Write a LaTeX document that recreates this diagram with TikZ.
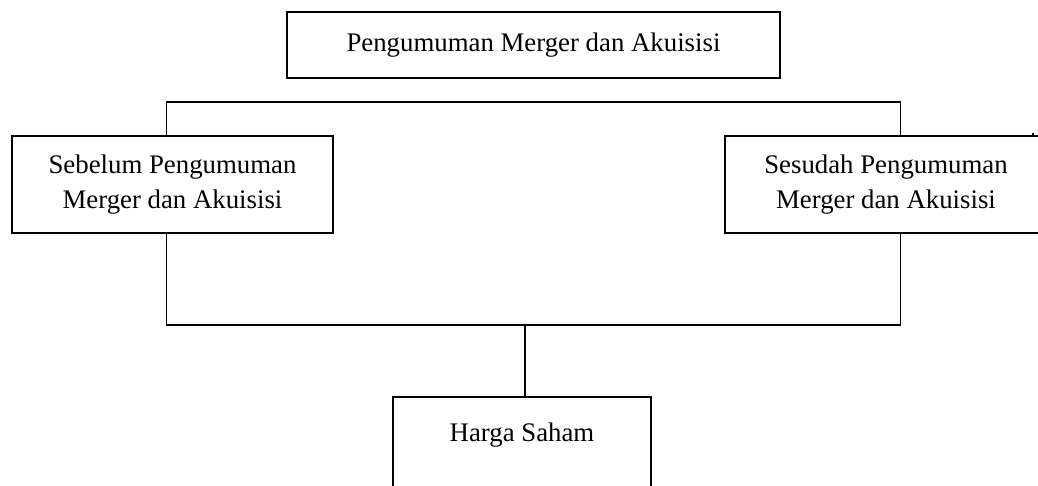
\documentclass[tikz,border=0pt]{standalone}
\usepackage{fontspec}
\setmainfont{Liberation Serif}
\begin{document}
\begin{tikzpicture}[x=1pt,y=-1pt,
  box/.style={draw=black, line width=2pt, rectangle, align=center, inner sep=0pt,
    font=\fontsize{26.8}{35}\selectfont},
  conn/.style={draw=black, line width=1.8pt}]
\useasboundingbox (0,0) rectangle (1038,486);
\clip (0,0) rectangle (1038,486);
\fill[white] (0,0) rectangle (1038,486);
% nodes
\node[box, minimum width=493, minimum height=66] (top) at (533.5,45) {Pengumuman Merger dan Akuisisi};
\node[box, minimum width=321, minimum height=97] (lb) at (172.5,185) {Sebelum Pengumuman\\Merger dan Akuisisi};
\node[box, minimum width=322, minimum height=97] (rb) at (886,185) {Sesudah Pengumuman\\Merger dan Akuisisi};
\node[box, minimum width=258, anchor=north, text height=30, text depth=70, inner ysep=14] (hs) at (522,396) {Harga Saham};
% junction coordinates
\coordinate (tl) at (166.5,102);
\coordinate (tr) at (900.5,102);
\coordinate (bl) at (166.5,325);
\coordinate (br) at (900.5,325);
\coordinate (bm) at (525,325);
% connectors
\draw[conn] (tl |- lb.north) -- (tl) -- (tr) -- (tr |- rb.north);
\draw[conn] (bl |- lb.south) -- (bl) -- (br) -- (br |- rb.south);
\draw[conn] (bm) -- (bm |- hs.north);
% small stray tick at right edge
\coordinate (tk) at (1033,133);
\draw[line width=1.5pt] (tk) -- (tk |- rb.north);
\end{tikzpicture}
\end{document}
